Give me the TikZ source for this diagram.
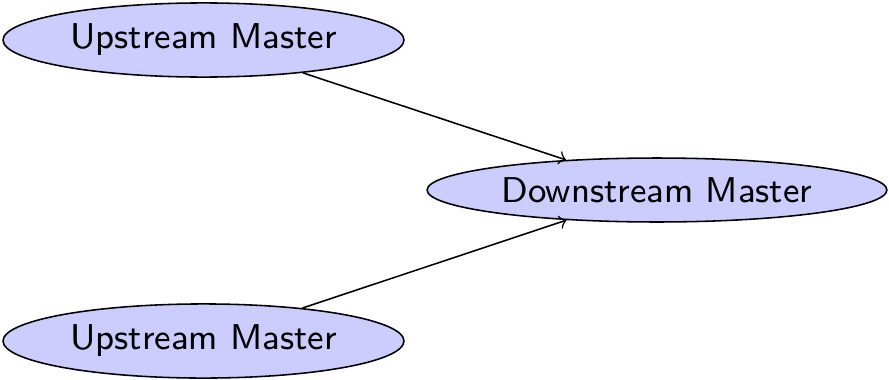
\documentclass[tikz,border=0pt]{standalone}
\usepackage{tikz}
\usetikzlibrary{arrows,positioning,shapes.geometric}

\begin{document}
\begin{tikzpicture}[x=0.2564pt, y=-0.2564pt,
    master/.style={ellipse, draw=black, fill=blue!20, inner sep=0pt, font=\fontsize{9.2}{11}\sffamily}]
  \useasboundingbox (0,0) rectangle (889,379);

  \node (up1) [master, minimum width=102.8pt, minimum height=19pt] at (203.5,40) {Upstream Master};
  \node (up2) [master, minimum width=102.8pt, minimum height=19pt] at (203.5,341) {Upstream Master};
  \node (down) [master, minimum width=117.9pt, minimum height=16.4pt] at (657,190) {Downstream Master};

  \path [->]
  (up1) edge node {} (down)
  (up2) edge node {} (down);
\end{tikzpicture}
\end{document}
